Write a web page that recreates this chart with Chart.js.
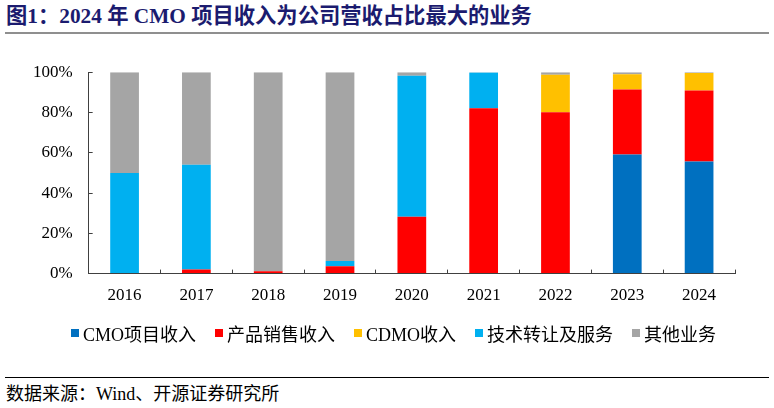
<!DOCTYPE html>
<html>
<head>
<meta charset="utf-8">
<script src="https://cdn.jsdelivr.net/npm/chart.js@4"></script>
<style>
  body { margin: 0; background: #fff; width: 774px; height: 408px; position: relative; overflow: hidden; }
  #title { position: absolute; left: 6px; top: 3px; font: bold 21.3px "Liberation Serif", "Noto Sans CJK SC", serif; color: #1b1b6f; white-space: nowrap; line-height: 26px; }
  #rule1 { position: absolute; left: 5px; top: 32px; width: 764px; height: 2px; background: #8f8f8f; }
  #box { position: absolute; left: 0; top: 42px; width: 774px; height: 280px; }
  #legend { position: absolute; left: 71px; top: 322px; height: 22px; display: flex; align-items: center; gap: 19px;
    font: 18px "Liberation Serif", "Noto Sans CJK SC", serif; color: #000; white-space: nowrap; }
  #legend .item { display: flex; align-items: center; }
  #legend .sw { width: 8px; height: 8px; margin-right: 4px; }
  #rule2 { position: absolute; left: 5px; top: 377px; width: 764px; height: 1px; background: #000; }
  #src { position: absolute; left: 6px; top: 383px; font: 18px "Liberation Serif", "Noto Sans CJK SC", serif; color: #000; white-space: nowrap; line-height: 22px; }
</style>
</head>
<body>
<div id="title">图1：2024 年 CMO 项目收入为公司营收占比最大的业务</div>
<div id="rule1"></div>
<div id="box"><canvas id="c"></canvas></div>
<div id="legend"></div>
<div id="rule2"></div>
<div id="src">数据来源：Wind、开源证券研究所</div>
<script>
const years = ['2016', '2017', '2018', '2019', '2020', '2021', '2022', '2023', '2024'];
const cmo = [0, 0, 0, 0, 0, 0, 0, 59.1, 55.6];
const productSales = [0, 2, 1.2, 3.7, 28.2, 82.1, 80.1, 32.3, 35.3];
const cdmo = [0, 0, 0, 0, 0, 0, 18.6, 7.6, 8.7];
const techService = [50, 52, 0, 2.6, 70, 17.7, 0, 0, 0];
const others = [50, 46, 98.8, 93.7, 1.8, 0.2, 1.3, 1, 0.4];

const names = ['CMO项目收入', '产品销售收入', 'CDMO收入', '技术转让及服务', '其他业务'];
const colors = ['#0070C0', '#FF0000', '#FFC000', '#00B0F0', '#A5A5A5'];
const series = [cmo, productSales, cdmo, techService, others];

const font = '"Liberation Serif", "Noto Sans CJK SC", serif';

// legend
const legend = document.getElementById('legend');
names.forEach((n, i) => {
  const item = document.createElement('span');
  item.className = 'item';
  const sw = document.createElement('span');
  sw.className = 'sw';
  sw.style.background = colors[i];
  const t = document.createElement('span');
  t.innerText = n;
  item.appendChild(sw);
  item.appendChild(t);
  legend.appendChild(item);
});

new Chart('c', {
  type: 'bar',
  data: {
    labels: years,
    datasets: series.map((d, i) => ({
      label: names[i],
      data: d,
      backgroundColor: colors[i],
      borderWidth: 0,
      categoryPercentage: 1,
      barPercentage: 0.4
    }))
  },
  options: {
    responsive: true,
    maintainAspectRatio: false,
    animation: false,
    layout: { padding: { left: 13, right: 39, top: 14, bottom: 0 } },
    plugins: {
      legend: { display: false },
      tooltip: { enabled: false }
    },
    scales: {
      x: {
        stacked: true,
        offset: true,
        // negative tick length draws the marks inward, like the source
        grid: { offset: true, drawOnChartArea: false, tickLength: -4, color: '#404040' },
        border: { color: '#404040', width: 1 },
        ticks: { color: '#000', font: { family: font, size: 17 }, padding: 16 }
      },
      y: {
        stacked: true,
        min: 0, max: 100,
        grid: { drawOnChartArea: false, tickLength: -4, color: '#404040' },
        border: { color: '#404040', width: 1 },
        ticks: { stepSize: 20, color: '#000', font: { family: font, size: 17 }, padding: 20,
          callback: v => v + '%' }
      }
    }
  }
});
</script>
</body>
</html>
